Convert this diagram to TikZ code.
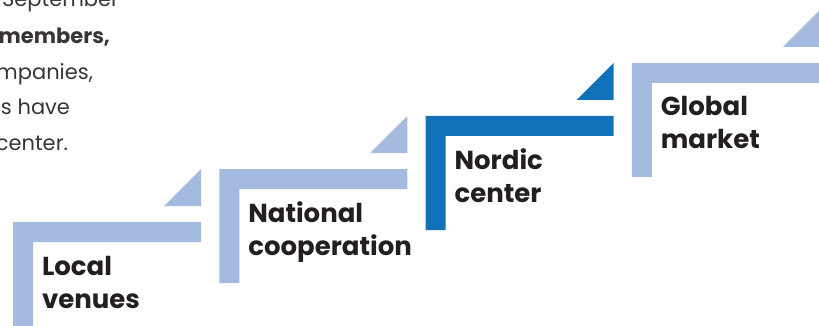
\documentclass[tikz,border=0pt]{standalone}
\usepackage{fontspec}
\setmainfont{Poppins}
\usetikzlibrary{positioning}
\usetikzlibrary{calc}
\definecolor{lightstep}{RGB}{164,186,223}
\definecolor{darkstep}{RGB}{17,114,186}
\definecolor{inktext}{RGB}{35,31,32}
\tikzset{
	every node/.style={anchor=base west,align=left,inner sep=0pt,outer sep=0pt,text=inktext},
	steplabel/.style={font=\fontsize{26}{33}\selectfont\bfseries},
	introline/.style={anchor=base east,font=\fontsize{21}{35}\selectfont,text=inktext!90},
}

\begin{document}
\begin{tikzpicture}[x=1pt,y=-1pt]
	\useasboundingbox (0,0) rectangle (819,326);
	\clip (0,0) rectangle (819,326);

	% intro text, cut at the left edge...........
	\node [introline] (sep) at (119,7) {September};
	\node [introline,font=\fontsize{21}{35}\selectfont\bfseries] (mem) at (110,44) {members,};
	\node [introline] (comp) at (93,80) {mpanies,};
	\node [introline] (have) at (70,115) {s have};
	\node [introline] (cent) at (68,150) {center.};

	% stairs.....................
	\foreach \i/\col/\lbl/\nm in {0/lightstep/{Local\\venues}/local,
	                               1/lightstep/{National\\cooperation}/national,
	                               2/darkstep/{Nordic\\center}/nordic,
	                               3/lightstep/{Global\\market}/global}{
		\coordinate (\nm) at (13+206.3*\i,222-53*\i);
		% L-shaped bar
		\fill [\col] (\nm) -- ++(188,0) -- ++(0,20) -- ++(-168,0) -- ++(0,94) -- ++(-20,0) -- cycle;
		% small triangle above the bar end
		\fill [\col] ($(\nm)+(151,-16)$) -- ++(37,0) -- ++(0,-37) -- cycle;
		% label (base = last line)
		\node [steplabel] (\nm-text) at ($(\nm)+(29,86)$) {\lbl};
	}
\end{tikzpicture}
\end{document}
